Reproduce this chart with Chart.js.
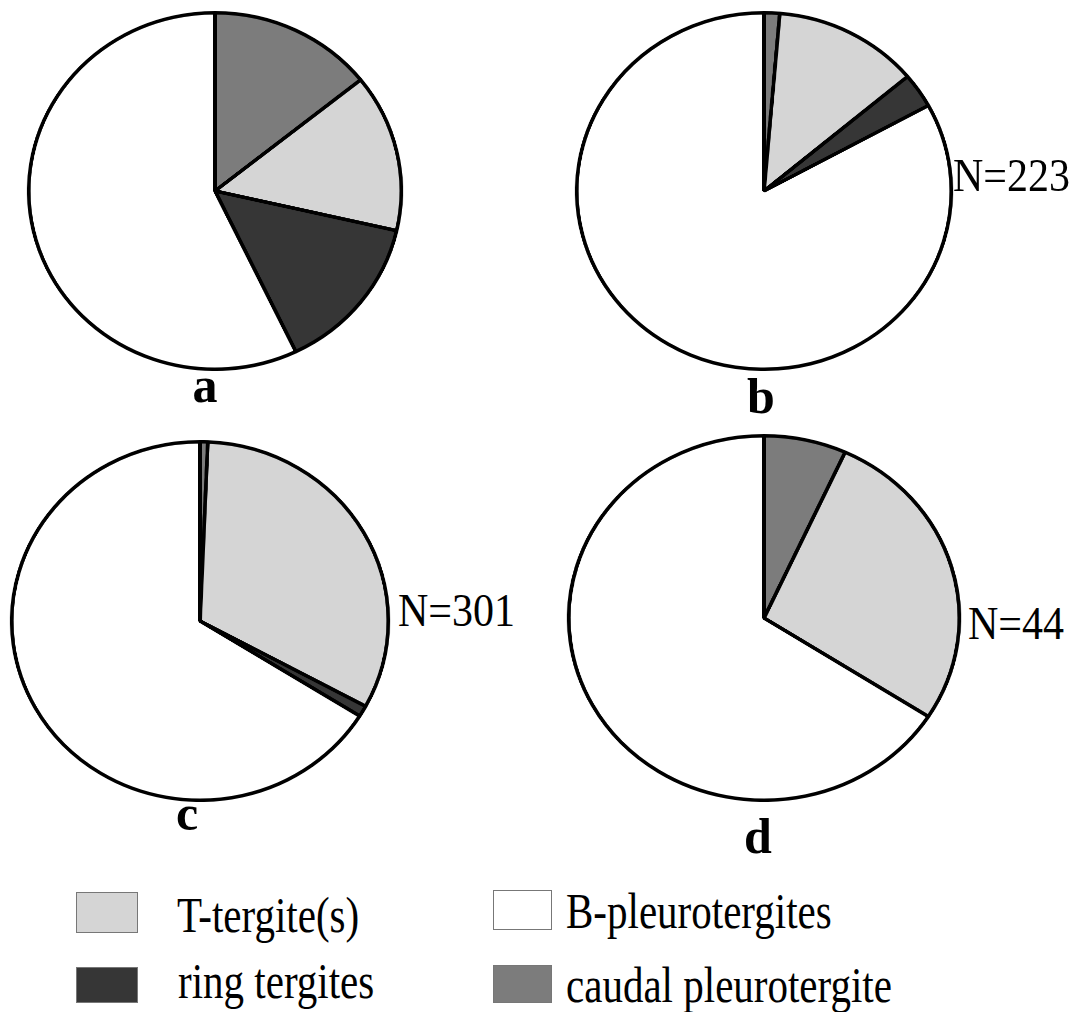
<!DOCTYPE html>
<html lang="en">

<head>
  <meta charset="UTF-8">
  <title>Tergite pies</title>
  <script src="https://cdn.jsdelivr.net/npm/chart.js"></script>
  <style>
    html, body { margin: 0; padding: 0; background: #fff; }
    #page { position: relative; width: 1082px; height: 1012px; overflow: hidden; font-family: "Liberation Serif", "Times New Roman", serif; color: #000; }
    .pie { position: absolute; }
    .txt { position: absolute; white-space: nowrap; line-height: 1; }
    .panel { font-weight: bold; font-size: 50px; }
    .nlab { font-size: 42px; }
    .leg { font-size: 41px; }
    .box { position: absolute; box-sizing: border-box; border: 1px solid #777; }
  </style>
</head>

<body>
  <div id="page"></div>

  <script>
    // slice order, clockwise from 12 o'clock
    const sliceLabels = ['caudal pleurotergite', 'T-tergite(s)', 'ring tergites', 'B-pleurotergites'];
    const sliceColors = ['#7c7c7c', '#d5d5d5', '#363636', '#ffffff'];

    // counts per panel (same order as sliceLabels)
    const pieA = [1, 1, 1, 4];
    const pieB = [3, 28, 7, 185];
    const pieC = [2, 97, 3, 199];
    const pieD = [3, 12, 0, 29];

    const panelLetters = ['a', 'b', 'c', 'd'];
    const nLabels = ['', 'N=223', 'N=301', 'N=44'];

    // legend order as printed (two columns)
    const legendLabels = ['T-tergite(s)', 'B-pleurotergites', 'ring tergites', 'caudal pleurotergite'];

    // layout (centre, radii) for each pie
    const pieLayout = [
      { cx: 215, cy: 191, rx: 186, ry: 178 },
      { cx: 764, cy: 191, rx: 187, ry: 178 },
      { cx: 200, cy: 621, rx: 188, ry: 179 },
      { cx: 764, cy: 618, rx: 195, ry: 182 }
    ];
    const letterPos = [[205, 402], [761, 413], [187, 830], [758, 853]];
    const nPos = [[0, 0], [953, 191], [398, 626], [968, 639]];
    const legendPos = [
      { bx: 76, by: 892, bw: 62, bh: 41, tx: 177, base: 932 },
      { bx: 493, by: 890, bw: 59, bh: 40, tx: 566, base: 928 },
      { bx: 76, by: 967, bw: 62, bh: 36, tx: 178, base: 998 },
      { bx: 493, by: 965, bw: 59, bh: 38, tx: 566, base: 1002 }
    ];

    const page = document.getElementById('page');
    const allData = [pieA, pieB, pieC, pieD];
    const BW = 3.5;

    // put a text span so that its baseline sits at y (optionally stretched upward)
    function addText(str, x, baseY, cls, size, center, stretch) {
      const s = document.createElement('span');
      s.className = 'txt ' + cls;
      s.textContent = str;
      s.style.top = (baseY - 0.8375 * size) + 'px';
      s.style.left = x + 'px';
      let tf = '';
      if (center) tf += 'translateX(-50%) ';
      if (stretch) {
        s.style.transformOrigin = '0 ' + (0.8375 * size) + 'px';
        tf += 'scaleY(' + stretch + ')';
      }
      if (tf) s.style.transform = tf;
      page.appendChild(s);
    }

    allData.forEach((vals, i) => {
      const L = pieLayout[i];
      const side = 2 * L.ry + BW;
      const wrap = document.createElement('div');
      wrap.className = 'pie';
      wrap.style.width = side + 'px';
      wrap.style.height = side + 'px';
      wrap.style.left = (L.cx - side / 2) + 'px';
      wrap.style.top = (L.cy - side / 2) + 'px';
      wrap.style.transform = 'scaleX(' + (L.rx / L.ry) + ')';
      const cv = document.createElement('canvas');
      wrap.appendChild(cv);
      page.appendChild(wrap);

      new Chart(cv.getContext('2d'), {
        type: 'pie',
        data: {
          labels: sliceLabels,
          datasets: [{
            data: vals,
            backgroundColor: sliceColors,
            borderColor: '#000',
            borderWidth: BW
          }]
        },
        options: {
          responsive: true,
          maintainAspectRatio: false,
          animation: false,
          devicePixelRatio: 2,
          layout: { padding: 0 },
          plugins: { legend: { display: false }, tooltip: { enabled: false } }
        }
      });

      addText(panelLetters[i], letterPos[i][0], letterPos[i][1], 'panel', 50, true);
      if (nLabels[i]) addText(nLabels[i], nPos[i][0], nPos[i][1], 'nlab', 42, false, 1.08);
    });

    // legend
    legendLabels.forEach((lab, i) => {
      const P = legendPos[i];
      const b = document.createElement('div');
      b.className = 'box';
      b.style.left = P.bx + 'px';
      b.style.top = P.by + 'px';
      b.style.width = P.bw + 'px';
      b.style.height = P.bh + 'px';
      b.style.background = sliceColors[sliceLabels.indexOf(lab)];
      page.appendChild(b);
      addText(lab, P.tx, P.base, 'leg', 41, false, 1.22);
    });
  </script>
</body>

</html>
